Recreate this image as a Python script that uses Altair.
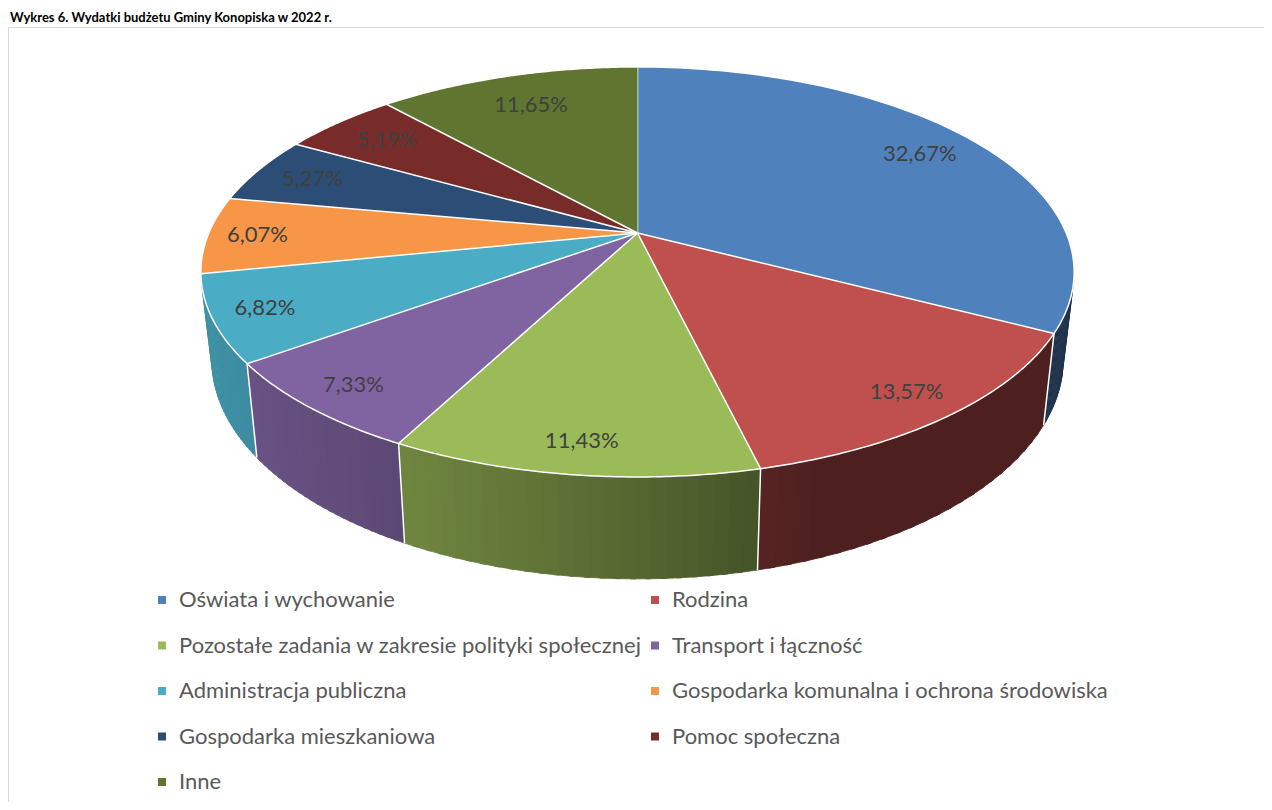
import altair as alt
import pandas as pd

# ---- data ----
categories = [
    "Oświata i wychowanie",
    "Rodzina",
    "Pozostałe zadania w zakresie polityki społecznej",
    "Transport i łączność",
    "Administracja publiczna",
    "Gospodarka komunalna i ochrona środowiska",
    "Gospodarka mieszkaniowa",
    "Pomoc społeczna",
    "Inne",
]
shares = [32.67, 13.57, 11.43, 7.33, 6.82, 6.07, 5.27, 5.19, 11.65]
palette = ["#4F81BD", "#C0504D", "#9BBB59", "#8064A2", "#4BACC6",
           "#F79646", "#2C4D75", "#772C2A", "#5F7530"]
title_text = "Wykres 6. Wydatki budżetu Gminy Konopiska w 2022 r."

# ---- geometry of the 3D pie (styles / layout) ----
W, H = 1256, 794
CX, CY, A, B, K = 629.5, 225.0, 197.6, 428.7, 0.19
BX, BY, DROP = 0.975, 1.0715, 84.5
F0, F1 = 104.3 / 360, 255.7 / 360
FONT = "Lato"

df = pd.DataFrame({"category": categories, "share": shares,
                   "idx": list(range(len(categories)))})
title_df = pd.DataFrame({"title": [title_text]})

xs = alt.Scale(domain=[0, W], nice=False, zero=False)
ys = alt.Scale(domain=[0, H], nice=False, zero=False, reverse=True)


def top_x(th):
    return f"({CX} + {B}*sin({th})/(1 + {K}*cos({th})))"


def top_y(th):
    return f"({CY} - {A}*cos({th})/(1 + {K}*cos({th})))"


def bot_x(th):
    return f"({CX} + {BX * B}*sin({th})/(1 + {K}*cos({th})))"


def bot_y(th):
    return f"({CY + DROP} - {BY * A}*cos({th})/(1 + {K}*cos({th})))"


base = (
    alt.Chart(df)
    .transform_window(cum="sum(share)", sort=[alt.SortField("idx")], frame=[None, 0])
    .transform_joinaggregate(total="sum(share)")
    .transform_calculate(t1="datum.cum / datum.total")
    .transform_calculate(t0="(datum.cum - datum.share) / datum.total")
)

# ---- side walls (shaded quads) ----
NQ = 24
col_expr = "[" + ",".join(f"'{c}'" for c in palette) + "][datum.idx]"
walls = (
    base.transform_calculate(a0=f"max(datum.t0, {F0})")
    .transform_calculate(a1=f"min(datum.t1, {F1})")
    .transform_filter("datum.a1 > datum.a0")
    .transform_calculate(q=f"sequence(0, {NQ})")
    .transform_flatten(["q"])
    .transform_calculate(corner="sequence(0, 4)")
    .transform_flatten(["corner"])
    .transform_calculate(
        uq=f"(datum.corner == 1 || datum.corner == 2) ? min(1, (datum.q + 1.35)/{NQ}) : datum.q/{NQ}")
    .transform_calculate(th="2*PI*(datum.a0 + (datum.a1 - datum.a0)*datum.uq)")
    .transform_calculate(thm=f"2*PI*(datum.a0 + (datum.a1 - datum.a0)*(datum.q + 0.5)/{NQ})")
    .transform_calculate(wx=f"datum.corner < 2 ? {top_x('datum.th')} : {bot_x('datum.th')}")
    .transform_calculate(wy=f"datum.corner < 2 ? {top_y('datum.th')} : {bot_y('datum.th')}")
    .transform_calculate(fk="0.40 + 0.43*max(0, cos(datum.thm - 250*PI/180))")
    .transform_calculate(basecol=col_expr)
    .transform_calculate(
        wcol="'rgb(' + round(rgb(datum.basecol).r*datum.fk) + ',' + round(rgb(datum.basecol).g*datum.fk) + ',' + round(rgb(datum.basecol).b*datum.fk) + ')'")
    .transform_calculate(qid="datum.idx + '_' + datum.q")
    .mark_line(strokeWidth=0.8, interpolate="linear")
    .encode(
        x=alt.X("wx:Q", scale=xs, axis=None),
        y=alt.Y("wy:Q", scale=ys, axis=None),
        order=alt.Order("corner:Q"),
        detail="qid:N",
        fill=alt.Fill("wcol:N", scale=None),
        stroke=alt.Stroke("wcol:N", scale=None),
    )
)

# ---- white edges between slices on the walls ----
edges = (
    base.transform_filter(f"datum.t0 > {F0} && datum.t0 < {F1}")
    .transform_calculate(th="2*PI*datum.t0")
    .transform_calculate(ex=top_x("datum.th"), ey=top_y("datum.th"),
                         ex2=bot_x("datum.th"), ey2=bot_y("datum.th"))
    .mark_rule(color="white", strokeWidth=1.5)
    .encode(
        x=alt.X("ex:Q", scale=xs, axis=None),
        y=alt.Y("ey:Q", scale=ys, axis=None),
        x2="ex2:Q",
        y2="ey2:Q",
    )
)

# ---- top faces ----
NT = 90
tops = (
    base.transform_calculate(p=f"sequence(0, {NT + 2})")
    .transform_flatten(["p"])
    .transform_calculate(th=f"2*PI*(datum.t0 + (datum.t1 - datum.t0)*(datum.p - 1)/{NT})")
    .transform_calculate(px=f"datum.p == 0 ? {CX} : {top_x('datum.th')}")
    .transform_calculate(py=f"datum.p == 0 ? {CY} : {top_y('datum.th')}")
    .mark_line(stroke="white", strokeWidth=1.5, strokeJoin="round", interpolate="linear")
    .encode(
        x=alt.X("px:Q", scale=xs, axis=None),
        y=alt.Y("py:Q", scale=ys, axis=None),
        order=alt.Order("p:Q"),
        detail="category:N",
        fill=alt.Fill(
            "category:N",
            sort=categories,
            scale=alt.Scale(domain=categories, range=palette),
            legend=alt.Legend(
                orient="none", legendX=143, legendY=581, columns=2, direction="horizontal",
                title=None,
                symbolType="square", symbolSize=64, symbolStrokeWidth=0,
                labelFont=FONT, labelFontSize=22, labelColor="#595959",
                labelOffset=6, labelLimit=900, rowPadding=23.5, columnPadding=2,
                padding=0,
            ),
        ),
    )
)

# ---- percentage labels ----
labels = (
    base.transform_calculate(tm="PI*(datum.t0 + datum.t1)")
    .transform_calculate(r="0.885 - 0.1*max(cos(datum.tm), 0)")
    .transform_calculate(
        lx=f"{CX} + {B}*datum.r*sin(datum.tm)/(1 + {K}*datum.r*cos(datum.tm))",
        ly=f"{CY} - {A}*datum.r*cos(datum.tm)/(1 + {K}*datum.r*cos(datum.tm))",
        lab="replace(format(datum.share, '.2f'), '.', ',') + '%'",
    )
    .mark_text(font=FONT, fontSize=22, color="#404040", baseline="middle", align="center")
    .encode(
        x=alt.X("lx:Q", scale=xs, axis=None),
        y=alt.Y("ly:Q", scale=ys, axis=None),
        text="lab:N",
    )
)

# ---- document caption and chart-area border ----
title = alt.Chart(title_df).mark_text(
    font=FONT, fontWeight="bold", fontSize=13, align="left", baseline="alphabetic", color="#000000"
).encode(x=alt.value(2), y=alt.value(14), text="title:N")

border_top = alt.Chart(title_df).mark_rule(color="#D9D9D9", strokeWidth=1).encode(
    x=alt.value(0), x2=alt.value(W), y=alt.value(19.5), y2=alt.value(19.5))
border_left = alt.Chart(title_df).mark_rule(color="#D9D9D9", strokeWidth=1).encode(
    x=alt.value(0.5), x2=alt.value(0.5), y=alt.value(19.5), y2=alt.value(H))

chart = (
    alt.layer(walls, edges, tops, labels, title, border_top, border_left)
    .resolve_scale(fill="independent", stroke="independent")
    .properties(width=W, height=H, padding=0, autosize=alt.AutoSizeParams(type="none"),
                background="white")
    .configure_view(stroke=None)
)

chart.save("out.html", embed_options={"renderer": "svg", "actions": False})
